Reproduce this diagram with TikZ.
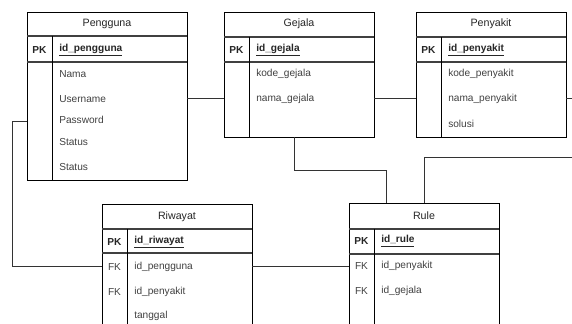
\documentclass[tikz,border=0pt]{standalone}
\usepackage{fontspec}
\setmainfont{Liberation Sans}
\begin{document}
\begin{tikzpicture}[x=0.75pt,y=-0.75pt,
  tbl/.style={draw=black,line width=0.75pt,rectangle,inner sep=0pt,anchor=north west},
  sep/.style={draw=black!75,line width=0.9pt},
  dv/.style={draw=black,line width=0.75pt},
  hdr/.style={font=\fontsize{8}{9}\selectfont,text=black!85,inner sep=0pt},
  fld/.style={font=\fontsize{7.6}{9}\selectfont,text=black!75,anchor=west,inner sep=0pt},
  key/.style={font=\fontsize{7.6}{9}\selectfont\bfseries,text=black!85,anchor=west,inner sep=0pt},
  kl/.style={font=\fontsize{7.6}{9}\selectfont\bfseries,text=black!85,inner sep=0pt},
  fk/.style={font=\fontsize{7.6}{9}\selectfont,text=black!75,inner sep=0pt},
  conn/.style={draw=black!80,line width=0.75pt}]
\useasboundingbox (0,0) rectangle (572,324);
\clip (0,0) rectangle (572,324);

% ---------- Pengguna ----------
\node[tbl,minimum width=120pt,minimum height=126pt] (peng) at (27,12) {};
\draw[sep] (27,36) -- (187,36);
\draw[sep] (27,62) -- (187,62);
\draw[dv] (52,36) -- (52,180);
\node[hdr] (pengH) at (107,24) {Pengguna};
\node[kl] (pengPK) at (39.5,50) {PK};
\node[key] (pengK) at (59,50) {\underline{id\_pengguna}};
\node[fld] (pengF1) at (59,74) {Nama};
\node[fld] (pengF2) at (59,99) {Username};
\node[fld] (pengF3) at (59,120) {Password};
\node[fld] (pengF4) at (59,142) {Status};
\node[fld] (pengF5) at (59,167) {Status};

% ---------- Gejala ----------
\node[tbl,minimum width=112.5pt,minimum height=93.75pt] (gej) at (224,12) {};
\draw[sep] (224,37) -- (374,37);
\draw[sep] (224,62) -- (374,62);
\draw[dv] (249,37) -- (249,137);
\node[hdr] (gejH) at (299,24) {Gejala};
\node[kl] (gejPK) at (236.5,50) {PK};
\node[key] (gejK) at (256,50) {\underline{id\_gejala}};
\node[fld] (gejF1) at (256,74) {kode\_gejala};
\node[fld] (gejF2) at (256,99) {nama\_gejala};

% ---------- Penyakit ----------
\node[tbl,minimum width=112.5pt,minimum height=93.75pt] (peny) at (416,12) {};
\draw[sep] (416,37) -- (566,37);
\draw[sep] (416,62) -- (566,62);
\draw[dv] (441,37) -- (441,137);
\node[hdr] (penyH) at (491,24) {Penyakit};
\node[kl] (penyPK) at (428.5,50) {PK};
\node[key] (penyK) at (448,50) {\underline{id\_penyakit}};
\node[fld] (penyF1) at (448,74) {kode\_penyakit};
\node[fld] (penyF2) at (448,99) {nama\_penyakit};
\node[fld] (penyF3) at (448,124) {solusi};

% ---------- Riwayat ----------
\node[tbl,minimum width=112.5pt,minimum height=102pt] (riw) at (102,204) {};
\draw[sep] (102,229) -- (252,229);
\draw[sep] (102,253) -- (252,253);
\draw[dv] (127,229) -- (127,340);
\node[hdr] (riwH) at (177,217) {Riwayat};
\node[kl] (riwPK) at (114.5,242) {PK};
\node[key] (riwK) at (134,242) {\underline{id\_riwayat}};
\node[fk] (riwFK1) at (114.5,267) {FK};
\node[fld] (riwF1) at (134,267) {id\_pengguna};
\node[fk] (riwFK2) at (114.5,292) {FK};
\node[fld] (riwF2) at (134,292) {id\_penyakit};
\node[fld] (riwF3) at (134,316) {tanggal};

% ---------- Rule ----------
\node[tbl,minimum width=112.5pt,minimum height=102.75pt] (rule) at (349,203) {};
\draw[sep] (349,229) -- (499,229);
\draw[sep] (349,254) -- (499,254);
\draw[dv] (374,229) -- (374,340);
\node[hdr] (ruleH) at (424,216) {Rule};
\node[kl] (rulePK) at (361.5,241) {PK};
\node[key] (ruleK) at (381,241) {\underline{id\_rule}};
\node[fk] (ruleFK1) at (361.5,266) {FK};
\node[fld] (ruleF1) at (381,266) {id\_penyakit};
\node[fk] (ruleFK2) at (361.5,291) {FK};
\node[fld] (ruleF2) at (381,291) {id\_gejala};

% ---------- connector ends ----------
\coordinate (c1a) at (187,99);  \coordinate (c1b) at (224,99);
\coordinate (c2a) at (374,99);  \coordinate (c2b) at (416,99);
\coordinate (c3a) at (566,99);  \coordinate (c3b) at (572,99);
\coordinate (c4a) at (27,122);  \coordinate (c4b) at (102,267);
\coordinate (c5a) at (252,266.5); \coordinate (c5b) at (349,266.5);
\coordinate (c6a) at (294,137); \coordinate (c6b) at (386,203);
\coordinate (c7a) at (424,203); \coordinate (c7b) at (572,158);

\draw[conn] (c1a) -- (c1b);
\draw[conn] (c2a) -- (c2b);
\draw[conn] (c3a) -- (c3b);
\draw[conn] (c4a) -- (12,122) -- (12,267) -- (c4b);
\draw[conn] (c5a) -- (c5b);
\draw[conn] (c6a) -- (294,171) -- (386,171) -- (c6b);
\draw[conn] (c7a) -- (424,158) -- (c7b);
\end{tikzpicture}
\end{document}
